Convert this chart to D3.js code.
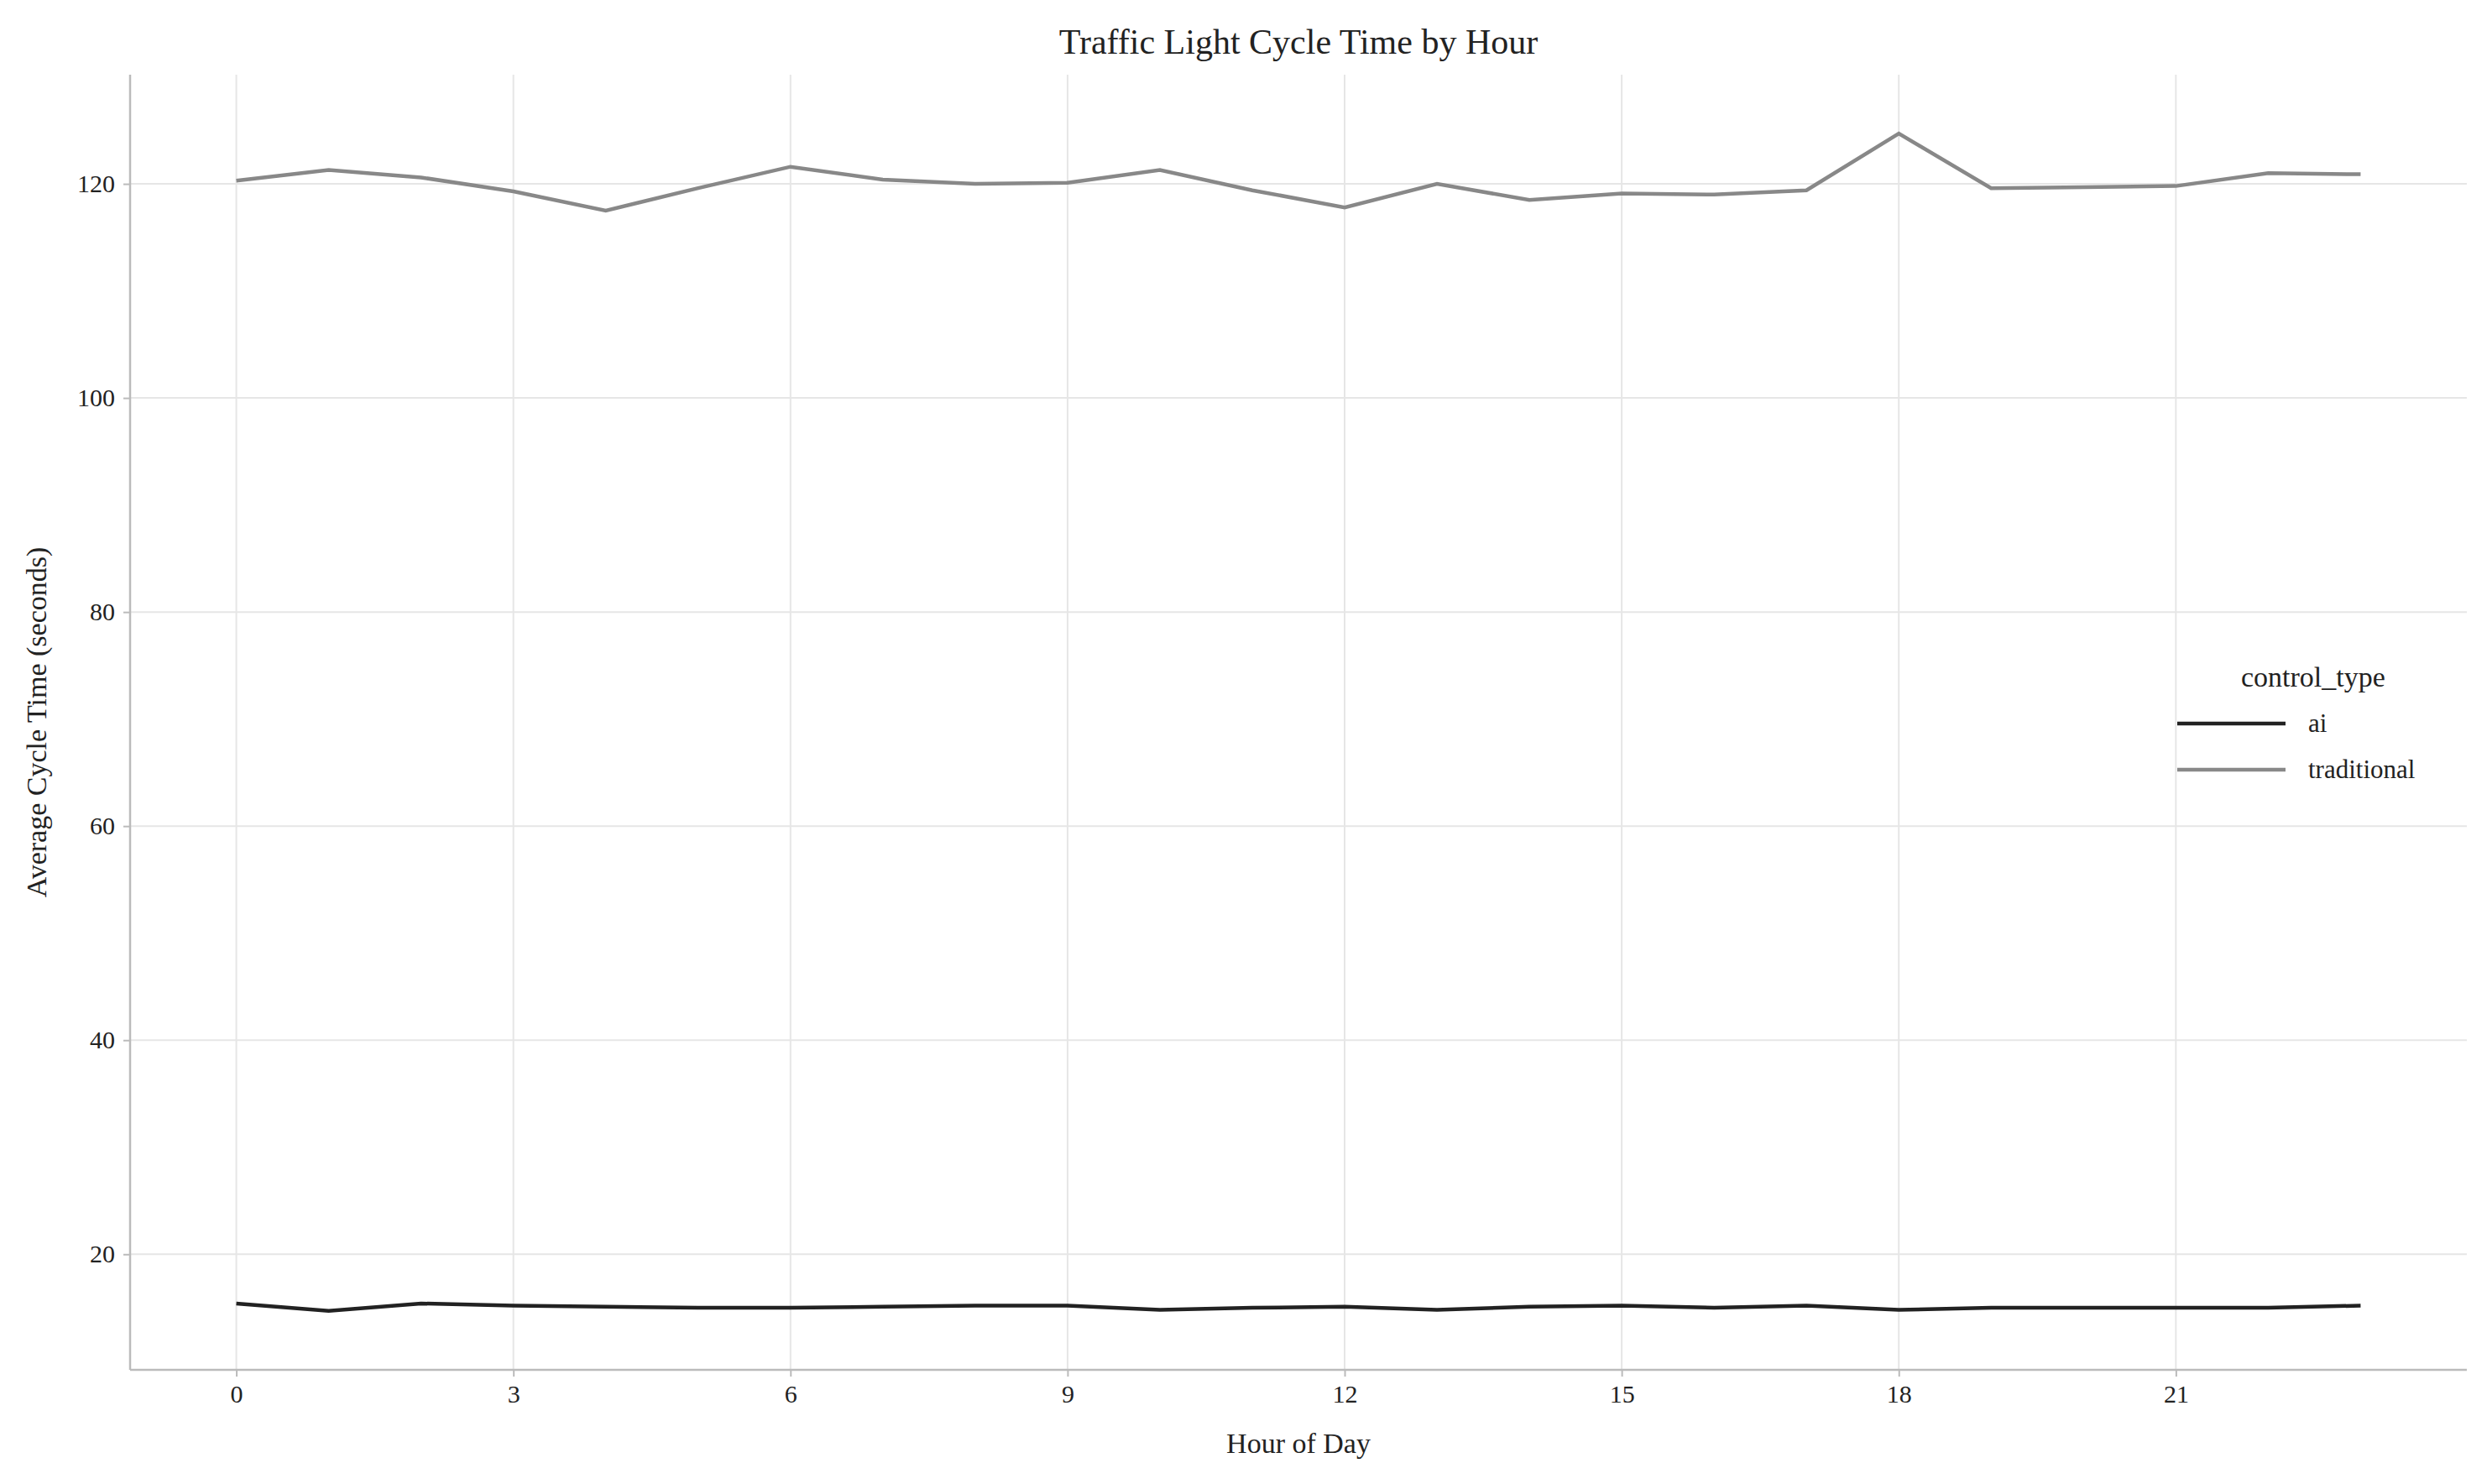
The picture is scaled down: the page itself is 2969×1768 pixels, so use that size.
<!DOCTYPE html>
<html><head><meta charset="utf-8">
<script src="https://cdn.jsdelivr.net/npm/d3@7"></script>
<style>body{margin:0;background:#fff}text{font-family:"Liberation Serif","DejaVu Serif",serif}</style>
</head><body><svg id="c" width="2969" height="1768"></svg>
<script>
const hours=d3.range(0,24);
const aiValues=[15.4,14.7,15.4,15.2,15.1,15.0,15.0,15.1,15.2,15.2,14.8,15.0,15.1,14.8,15.1,15.2,15.0,15.2,14.8,15.0,15.0,15.0,15.0,15.2];
const tradValues=[120.3,121.3,120.6,119.3,117.5,119.6,121.6,120.4,120.0,120.1,121.3,119.4,117.8,120.0,118.5,119.1,119.0,119.4,124.7,119.6,119.7,119.8,121.0,120.9];
const xTicks=[0,3,6,9,12,15,18,21];
const yTicks=[20,40,60,80,100,120];
const series=[{name:"ai",values:aiValues,color:"#222222"},{name:"traditional",values:tradValues,color:"#888888"}];
const L=155,R=2939,T=89,B=1632;
const svg=d3.select("#c");
const x=d3.scaleLinear().domain([-1.15,24.15]).range([L,R]);
const y=d3.scaleLinear().domain([9.2,130.2]).range([B,T]);
const g=svg.append("g");
g.selectAll(".gx").data(xTicks).join("line").attr("x1",d=>x(d)).attr("x2",d=>x(d)).attr("y1",T).attr("y2",B).attr("stroke","#e6e6e6").attr("stroke-width",2);
g.selectAll(".gy").data(yTicks).join("line").attr("x1",L).attr("x2",R).attr("y1",d=>y(d)).attr("y2",d=>y(d)).attr("stroke","#e6e6e6").attr("stroke-width",2);
const xa=svg.append("g").attr("transform",`translate(0,${B})`).call(d3.axisBottom(x).tickValues(xTicks).tickSize(8).tickPadding(10));
const ya=svg.append("g").attr("transform",`translate(${L},0)`).call(d3.axisLeft(y).tickValues(yTicks).tickSize(8).tickPadding(10));
[xa,ya].forEach(a=>{a.selectAll("text").attr("font-size",30).attr("fill","#222").style("font-family","Liberation Serif");a.selectAll("line").attr("stroke","#bbb").attr("stroke-width",2);a.select(".domain").remove();});
svg.append("line").attr("x1",L).attr("x2",L).attr("y1",T).attr("y2",B).attr("stroke","#bbb").attr("stroke-width",2.5);
svg.append("line").attr("x1",L).attr("x2",R).attr("y1",B).attr("y2",B).attr("stroke","#bbb").attr("stroke-width",2.5);
const line=d3.line().x((d,i)=>x(hours[i])).y(d=>y(d));
series.forEach(s=>svg.append("path").attr("d",line(s.values)).attr("fill","none").attr("stroke",s.color).attr("stroke-width",4.5));
svg.append("text").attr("x",(L+R)/2).attr("y",64).attr("text-anchor","middle").attr("font-size",42).attr("fill","#222").text("Traffic Light Cycle Time by Hour");
svg.append("text").attr("x",(L+R)/2).attr("y",1731).attr("text-anchor","middle").attr("font-size",34).attr("fill","#222").text("Hour of Day");
svg.append("text").attr("transform",`translate(55,${(T+B)/2}) rotate(-90)`).attr("text-anchor","middle").attr("font-size",34).attr("fill","#222").text("Average Cycle Time (seconds)");
const lg=svg.append("g");
lg.append("text").attr("x",2670).attr("y",818).attr("font-size",34).attr("fill","#222").text("control_type");
series.forEach((s,i)=>{const yy=862+i*55;
lg.append("line").attr("x1",2594).attr("x2",2723).attr("y1",yy).attr("y2",yy).attr("stroke",s.color).attr("stroke-width",4.5);
lg.append("text").attr("x",2750).attr("y",yy+10).attr("font-size",31).attr("fill","#222").text(s.name);});
</script></body></html>
